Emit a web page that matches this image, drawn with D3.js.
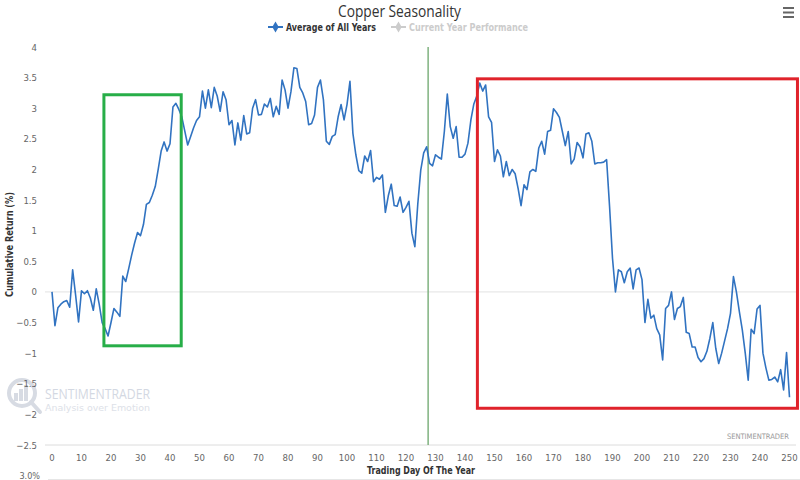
<!DOCTYPE html>
<html><head><meta charset="utf-8">
<script src="https://cdn.jsdelivr.net/npm/d3@7/dist/d3.min.js"></script>
<style>
body{margin:0;background:#fff;}
svg{display:block;font-family:"DejaVu Sans Condensed","Open Sans",sans-serif;}
</style>
</head><body>
<svg id="chart" width="800" height="480"></svg>
<script>
// ---------- data ----------
const chartTitle = "Copper Seasonality";
const seriesNames = ["Average of All Years", "Current Year Performance"];
const tradingDays = d3.range(0, 251);
const avgReturn = [
  0.0, -0.55, -0.26, -0.2, -0.16, -0.14, -0.25, 0.36, -0.05, -0.49,
  0.02, -0.03, 0.02, -0.1, -0.3, 0.05, -0.2, -0.5, -0.6, -0.72,
  -0.5, -0.27, -0.33, -0.4, 0.26, 0.17, 0.38, 0.6, 0.8, 0.97,
  0.92, 1.1, 1.43, 1.46, 1.58, 1.72, 2.0, 2.3, 2.45, 2.3,
  2.42, 3.02, 3.08, 2.98, 2.86, 2.63, 2.4, 2.54, 2.68, 2.8,
  2.86, 3.28, 3.0, 3.3, 3.01, 3.34, 3.2, 2.95, 3.27, 3.14,
  2.73, 2.8, 2.4, 2.76, 2.48, 2.88, 2.58, 2.6, 3.0, 3.14,
  2.89, 2.9, 3.07, 3.02, 3.16, 2.86, 3.03, 2.9, 3.46, 3.3,
  3.0, 3.27, 3.66, 3.65, 3.34, 3.25, 3.11, 2.73, 2.75, 2.89,
  3.34, 3.46, 3.14, 2.46, 2.41, 2.54, 2.57, 2.86, 3.06, 2.81,
  3.06, 3.44, 2.59, 2.24, 1.98, 1.94, 2.22, 2.13, 2.31, 1.8,
  1.87, 1.84, 1.91, 1.3, 1.57, 1.76, 1.41, 1.4, 1.55, 1.3,
  1.38, 1.48, 0.96, 0.74, 1.44, 1.99, 2.27, 2.37, 2.1, 2.06,
  2.24, 2.2, 2.17, 2.62, 3.23, 2.7, 2.51, 2.7, 2.2, 2.2,
  2.25, 2.43, 2.81, 3.07, 3.2, 3.41, 3.28, 3.38, 2.86, 2.77,
  2.13, 2.32, 2.22, 1.88, 2.13, 1.9, 2.0, 1.93, 1.69, 1.41,
  1.75, 1.67, 1.96, 2.0, 1.97, 2.35, 2.46, 2.25, 2.62, 2.64,
  2.99, 2.93, 2.85, 2.62, 2.39, 2.62, 2.09, 2.17, 2.44, 2.37,
  2.19, 2.58, 2.6, 2.46, 2.09, 2.11, 2.11, 2.12, 2.16, 1.4,
  0.55, 0.0, 0.36, 0.33, 0.15, 0.33, 0.39, 0.05, 0.36, 0.39,
  0.2, -0.5, -0.12, -0.43, -0.38, -0.6, -0.7, -1.11, -0.27, -0.22,
  0.0, -0.45, -0.27, -0.24, -0.09, -0.66, -0.68, -0.9, -0.9, -1.07,
  -1.14, -1.09, -0.97, -0.76, -0.5, -0.92, -1.17, -1.0, -0.8, -0.6,
  -0.35, 0.25, 0.0, -0.32, -0.62, -1.0, -1.44, -0.61, -0.68, -0.28,
  -0.22, -1.0, -1.24, -1.44, -1.43, -1.39, -1.47, -1.27, -1.6, -0.99,
  -1.72
];
const yTickValues = [4, 3.5, 3, 2.5, 2, 1.5, 1, 0.5, 0, -0.5, -1, -1.5, -2, -2.5];
const xTickValues = d3.range(0, 251, 10);
const currentDay = [127.5];
// highlight boxes in data units: [dayStart, dayEnd, top, bottom]
const greenBox = [17.6, 43.8, 3.22, -0.88];
const redBox = [144.2, 252.7, 3.48, -1.9];

// ---------- drawing ----------
const svg = d3.select("#chart");
const x = d3.scaleLinear().domain([0, 250]).range([52, 789.5]);
const y = d3.scaleLinear().domain([-2.5, 4]).range([445, 47]);

function fitText(sel, w) {
  return sel.attr("textLength", w).attr("lengthAdjust", "spacingAndGlyphs");
}

// title
fitText(svg.append("text").attr("x", 338).attr("y", 17)
  .attr("font-family", "Open Sans").attr("font-size", 16).attr("fill", "#333").text(chartTitle), 123);

// hamburger
[8, 12.5, 17].forEach(v => svg.append("rect").attr("x", 783).attr("y", v - 1)
  .attr("width", 11).attr("height", 2).attr("fill", "#666"));

// legend
const lg = svg.append("g");
lg.append("line").attr("x1", 268).attr("x2", 283).attr("y1", 27).attr("y2", 27)
  .attr("stroke", "#3173c1").attr("stroke-width", 2);
lg.append("path").attr("d", d3.symbol(d3.symbolDiamond, 36)()).attr("transform", "translate(275.5,27)")
  .attr("fill", "#3173c1");
fitText(lg.append("text").attr("x", 286).attr("y", 31).attr("font-size", 11).attr("font-weight", "bold")
  .attr("fill", "#333").text(seriesNames[0]), 90);
lg.append("line").attr("x1", 391).attr("x2", 406).attr("y1", 27).attr("y2", 27)
  .attr("stroke", "#ccc").attr("stroke-width", 2);
lg.append("path").attr("d", d3.symbol(d3.symbolDiamond, 36)()).attr("transform", "translate(398.5,27)")
  .attr("fill", "#ccc");
fitText(lg.append("text").attr("x", 409).attr("y", 31).attr("font-size", 11).attr("font-weight", "bold")
  .attr("fill", "#ccc").text(seriesNames[1]), 119);

// watermark
const wm = svg.append("g");
wm.append("circle").attr("cx", 22).attr("cy", 393).attr("r", 13).attr("fill", "none")
  .attr("stroke", "#d7dbe3").attr("stroke-width", 4);
wm.append("line").attr("x1", 31).attr("y1", 402).attr("x2", 40).attr("y2", 412)
  .attr("stroke", "#d7dbe3").attr("stroke-width", 4).attr("stroke-linecap", "round");
[[14, 8], [19, 12], [24, 16]].forEach(b => wm.append("rect").attr("x", b[0]).attr("y", 401 - b[1])
  .attr("width", 4).attr("height", b[1]).attr("fill", "#d7dbe3"));
fitText(wm.append("text").attr("x", 45).attr("y", 399).attr("font-family", "Open Sans")
  .attr("font-size", 15).attr("fill", "#d3d8e2").text("SENTIMENTRADER"), 105);
fitText(wm.append("text").attr("x", 45).attr("y", 411).attr("font-size", 9)
  .attr("fill", "#dde1e8").text("Analysis over Emotion"), 105);

// y tick labels
svg.append("g").selectAll("text").data(yTickValues).join("text")
  .attr("x", 37).attr("y", d => y(d) + 3.5).attr("text-anchor", "end")
  .attr("font-size", 9.5).attr("fill", "#666").text(d => d3.format("")(d));

// zero line
svg.append("line").attr("x1", 45).attr("x2", 796).attr("y1", y(0)).attr("y2", y(0))
  .attr("stroke", "#e2e2e2").attr("stroke-width", 1);

// x axis line
svg.append("line").attr("x1", 45).attr("x2", 796).attr("y1", y(-2.5)).attr("y2", y(-2.5))
  .attr("stroke", "#dcdcdc").attr("stroke-width", 1);

// x tick labels
svg.append("g").selectAll("text").data(xTickValues).join("text")
  .attr("x", d => x(d)).attr("y", 461).attr("text-anchor", "middle")
  .attr("font-size", 9.5).attr("fill", "#666").text(d => d);

// axis titles
fitText(svg.append("text").attr("x", 367).attr("y", 474)
  .attr("font-size", 11).attr("font-weight", "bold").attr("fill", "#333")
  .text("Trading Day Of The Year"), 108);
fitText(svg.append("text").attr("transform", `translate(13,297) rotate(-90)`)
  .attr("font-size", 10.5).attr("font-weight", "bold")
  .attr("fill", "#333").text("Cumulative Return (%)"), 105);

// credit
svg.append("text").attr("x", 789).attr("y", 439).attr("text-anchor", "end")
  .attr("font-size", 7.5).attr("fill", "#999").text("SENTIMENTRADER");

// next chart hint
svg.append("text").attr("x", 40).attr("y", 479).attr("text-anchor", "end")
  .attr("font-size", 9).attr("fill", "#666").text("3.0%");
svg.append("line").attr("x1", 48).attr("x2", 800).attr("y1", 479.5).attr("y2", 479.5)
  .attr("stroke", "#e6e6e6");

// current-day vertical line
svg.append("g").selectAll("line").data(currentDay).join("line")
  .attr("x1", d => x(d)).attr("x2", d => x(d)).attr("y1", y(4)).attr("y2", y(-2.5))
  .attr("stroke", "#7fb27f").attr("stroke-width", 1.5);

// series line
const line = d3.line().x((d, i) => x(tradingDays[i])).y(d => y(d));
svg.append("path").datum(avgReturn).attr("d", line).attr("fill", "none")
  .attr("stroke", "#3173c1").attr("stroke-width", 1.6).attr("stroke-linejoin", "round");

// highlight boxes
[[greenBox, "#27ae48"], [redBox, "#e0232b"]].forEach(([b, c]) => {
  svg.append("rect").attr("x", x(b[0])).attr("y", y(b[2]))
    .attr("width", x(b[1]) - x(b[0])).attr("height", y(b[3]) - y(b[2]))
    .attr("fill", "none").attr("stroke", c).attr("stroke-width", 3);
});
</script>
</body></html>
